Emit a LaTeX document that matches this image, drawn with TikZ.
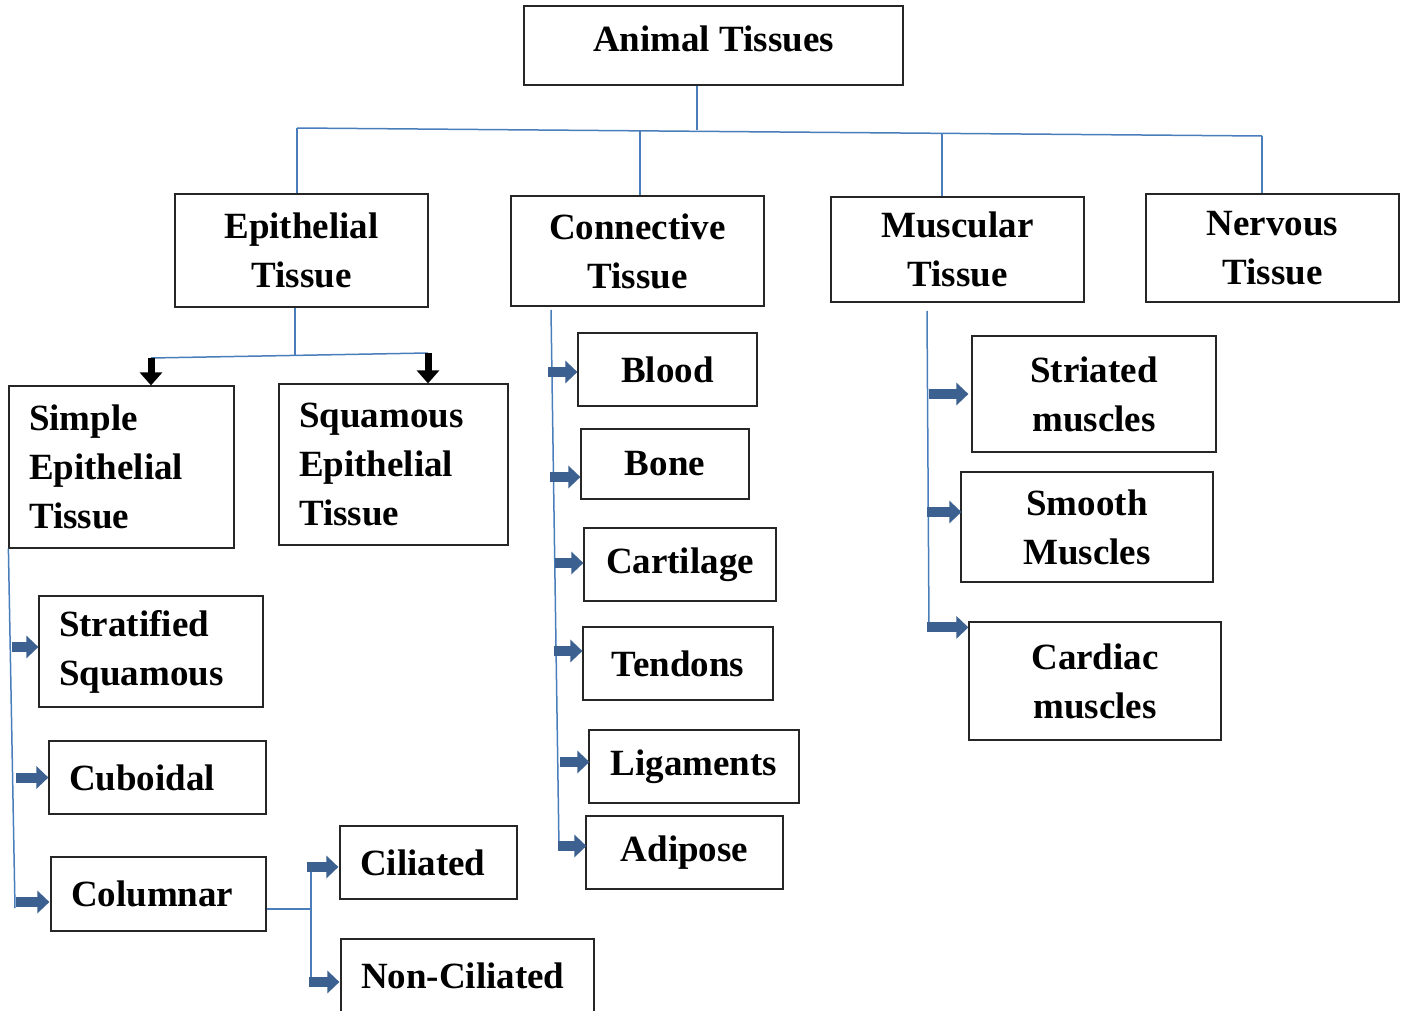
\documentclass[tikz,border=0pt]{standalone}
\usepackage{fontspec}
\setmainfont{Liberation Serif}
\usetikzlibrary{arrows.meta}

\definecolor{linkblue}{HTML}{4A7EBB}
\definecolor{arrowblue}{HTML}{3C6191}

\tikzset{
	tbox/.style={draw=black!85, line width=1.2pt, inner sep=0pt, align=center,
		font=\bfseries\fontsize{37}{49}\selectfont},
	lbox/.style={tbox, align=left, inner xsep=20pt},
	bus/.style={draw=linkblue, line width=1.5pt},
	barrow/.style={arrowblue, line width=10pt, -{Triangle[length=12pt,width=22pt]}},
	karrow/.style={black, line width=7pt, -{Triangle[length=13pt,width=22pt]}},
}

\begin{document}
\begin{tikzpicture}[x=1pt,y=-1pt]
			\useasboundingbox (0,0) rectangle (1405,1011);
			\clip (0,0) rectangle (1405,1011);

			% root and main groups
			\node[tbox, minimum width=379pt, minimum height=79pt, text height=25pt, text depth=12pt] (animal) at (713.5,45.5) {Animal Tissues};
			\node[tbox, minimum width=253pt, minimum height=113pt] (epi) at (301.5,250.5) {Epithelial\\Tissue};
			\node[tbox, minimum width=253pt, minimum height=110pt] (conn) at (637.5,251) {Connective\\Tissue};
			\node[tbox, minimum width=253pt, minimum height=105pt] (musc) at (957.5,249.5) {Muscular\\Tissue};
			\node[tbox, minimum width=253pt, minimum height=108pt] (nerv) at (1272.5,248) {Nervous\\Tissue};

			% top bus
			\coordinate (rootjoin) at (697,130);
			\coordinate (busL) at (297,128);
			\coordinate (busR) at (1262,136);
			\coordinate (cdrop) at (640,131);
			\coordinate (mdrop) at (942,133);
			\draw[bus] (rootjoin |- animal.south) -- (rootjoin);
			\draw[bus] (busL) -- (busR);
			\draw[bus] (busL) -- (busL |- epi.north);
			\draw[bus] (cdrop) -- (cdrop |- conn.north);
			\draw[bus] (mdrop) -- (mdrop |- musc.north);
			\draw[bus] (busR) -- (busR |- nerv.north);

			% epithelial
			\node[lbox, text width=185pt, minimum height=162pt] (simple) at (121.5,467) {Simple\\Epithelial\\Tissue};
			\node[lbox, text width=189pt, minimum height=161pt] (squam) at (393.5,464.5) {Squamous\\Epithelial\\Tissue};
			\coordinate (ejoin) at (295,356);
			\coordinate (ebusL) at (151,358);
			\coordinate (ebusR) at (428,353);
			\draw[bus] (ejoin |- epi.south) -- (ejoin);
			\draw[bus] (ebusL) -- (ebusR);
			\draw[karrow] (ebusL) -- (ebusL |- simple.north);
			\draw[karrow] (ebusR) -- (ebusR |- squam.north);

			% simple epithelial
			\node[lbox, text width=184pt, minimum height=111pt] (strat) at (151,651.5) {Stratified\\Squamous};
			\node[lbox, text width=177pt, minimum height=73pt] (cubo) at (157.5,777.5) {Cuboidal};
			\node[lbox, text width=175pt, minimum height=74pt] (colu) at (158.5,894) {Columnar};
			\coordinate (sbot) at (15,908);
			\draw[bus] (simple.south west) -- (sbot);
			\draw[barrow] ([xshift=-26pt,yshift=4.5pt]strat.west) -- ([yshift=4.5pt]strat.west);
			\draw[barrow] ([xshift=-32pt]cubo.west) -- (cubo.west);
			\draw[barrow] ([xshift=-34pt,yshift=-8pt]colu.west) -- ([xshift=-1pt,yshift=-8pt]colu.west);

			% columnar
			\node[lbox, text width=137pt, minimum height=73pt] (cili) at (428.5,862.5) {Ciliated};
			\node[lbox, text width=213pt, minimum height=73pt] (nonc) at (467.5,975.5) {Non-Ciliated};
			\coordinate (coljoin) at (311,909);
			\coordinate (coltop) at (311,866);
			\coordinate (colbot) at (311,981);
			\draw[bus] ([yshift=-15pt]colu.east) -- (coljoin);
			\draw[bus] (coltop) -- (colbot);
			\draw[barrow] ([xshift=-32pt,yshift=-4.5pt]cili.west) -- ([xshift=-1pt,yshift=-4.5pt]cili.west);
			\draw[barrow] ([xshift=-31pt,yshift=-6.5pt]nonc.west) -- ([xshift=-1pt,yshift=-6.5pt]nonc.west);

			% connective
			\node[tbox, minimum width=179pt, minimum height=73pt] (blood) at (667.5,369.5) {Blood};
			\node[tbox, minimum width=168pt, minimum height=70pt] (bone) at (665,464) {Bone};
			\node[tbox, minimum width=192pt, minimum height=73pt] (cart) at (680,564.5) {Cartilage};
			\node[tbox, minimum width=190pt, minimum height=73pt] (tend) at (678,663.5) {Tendons};
			\node[tbox, minimum width=210pt, minimum height=73pt] (liga) at (694,766.5) {Ligaments};
			\node[tbox, minimum width=197pt, minimum height=73pt] (adip) at (684.5,852.5) {Adipose};
			\coordinate (ctop) at (551,310);
			\coordinate (cbot) at (559,848);
			\draw[bus] (ctop) -- (cbot);
			\draw[barrow] ([xshift=-29pt,yshift=-2.5pt]blood.west) -- ([yshift=-2.5pt]blood.west);
			\draw[barrow] ([xshift=-30pt,yshift=-13pt]bone.west) -- ([yshift=-13pt]bone.west);
			\draw[barrow] ([xshift=-28pt,yshift=1.5pt]cart.west) -- ([yshift=1.5pt]cart.west);
			\draw[barrow] ([xshift=-28pt,yshift=12.5pt]tend.west) -- ([yshift=12.5pt]tend.west);
			\draw[barrow] ([xshift=-28pt,yshift=4.5pt]liga.west) -- ([xshift=1pt,yshift=4.5pt]liga.west);
			\draw[barrow] ([xshift=-27pt,yshift=6.5pt]adip.west) -- ([xshift=1pt,yshift=6.5pt]adip.west);

			% muscular
			\node[tbox, minimum width=244pt, minimum height=116pt] (stri) at (1094,394) {Striated\\muscles};
			\node[tbox, minimum width=252pt, minimum height=110pt] (smoo) at (1087,527) {Smooth\\Muscles};
			\node[tbox, minimum width=252pt, minimum height=118pt] (card) at (1095,681) {Cardiac\\muscles};
			\coordinate (mtop) at (927,311);
			\coordinate (mbot) at (929,628);
			\draw[bus] (mtop) -- (mbot);
			\draw[barrow] ([xshift=-42pt]stri.west) -- ([xshift=-3pt]stri.west);
			\draw[barrow] ([xshift=-33pt,yshift=15pt]smoo.west) -- ([xshift=1pt,yshift=15pt]smoo.west);
			\draw[barrow] ([xshift=-41pt,yshift=-6pt]card.north west) -- ([yshift=-6pt]card.north west);
		\end{tikzpicture}
\end{document}
